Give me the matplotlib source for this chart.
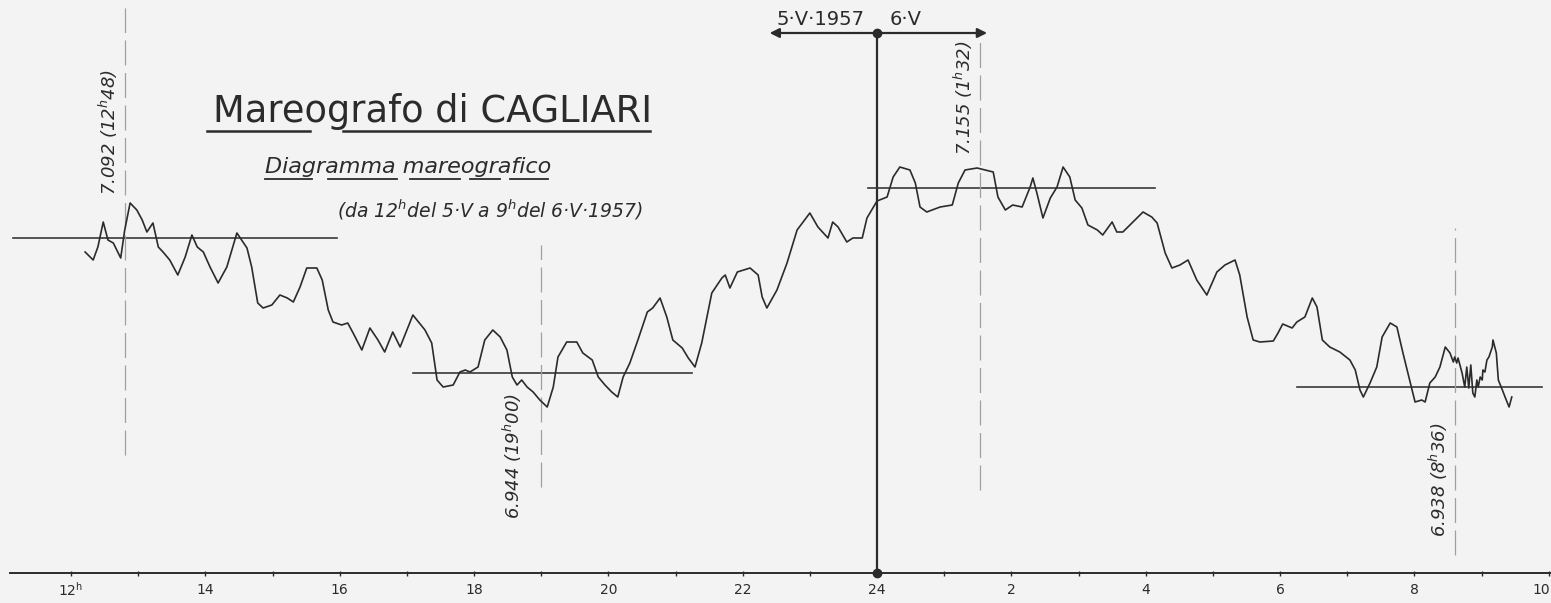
import matplotlib.pyplot as plt
import numpy as np

plt.rcParams['font.family'] = ['DejaVu Sans']

# time in hours counted from 12h of 5-V (values past 24 are on 6-V)
t = [12.21, 12.33, 12.40, 12.48, 12.55, 12.63, 12.74, 12.80, 12.88, 12.98,
     13.06, 13.13, 13.22, 13.30, 13.37, 13.47, 13.59, 13.70, 13.80, 13.88,
     13.97, 14.07, 14.19, 14.32, 14.47, 14.62, 14.69, 14.78, 14.86, 14.99,
     15.11, 15.22, 15.31, 15.41, 15.51, 15.66, 15.74, 15.83, 15.90, 16.03,
     16.12, 16.20, 16.33, 16.45, 16.57, 16.67, 16.79, 16.90, 17.09, 17.27,
     17.37, 17.45, 17.54, 17.69, 17.79, 17.87, 17.94, 18.06, 18.16, 18.28,
     18.39, 18.49, 18.57, 18.64, 18.71, 18.79, 18.88, 18.98, 19.09, 19.18,
     19.25, 19.38, 19.53, 19.62, 19.76, 19.85, 19.95, 20.05, 20.14, 20.22,
     20.32, 20.44, 20.58, 20.66, 20.77, 20.87, 20.96, 21.10, 21.19, 21.29,
     21.39, 21.54, 21.69, 21.74, 21.81, 21.92, 22.11, 22.23, 22.29, 22.36,
     22.51, 22.66, 22.81, 23.00, 23.12, 23.27, 23.34, 23.42, 23.55, 23.64,
     23.78, 23.85, 24.00, 24.15, 24.24, 24.34, 24.49, 24.57, 24.64, 24.74,
     24.94, 25.12, 25.21, 25.31, 25.49, 25.73, 25.80, 25.91, 26.02, 26.16,
     26.28, 26.32, 26.38, 26.47, 26.58, 26.68, 26.77, 26.87, 26.95, 27.05,
     27.14, 27.28, 27.36, 27.50, 27.57, 27.66, 27.84, 27.96, 28.09, 28.17,
     28.29, 28.39, 28.51, 28.63, 28.76, 28.91, 29.06, 29.18, 29.33, 29.40,
     29.51, 29.60, 29.70, 29.90, 29.97, 30.04, 30.18, 30.25, 30.37, 30.48,
     30.55, 30.63, 30.74, 30.89, 31.04, 31.12, 31.19, 31.24, 31.34, 31.44,
     31.52, 31.64, 31.74, 31.83, 31.94, 32.01, 32.11, 32.16, 32.23, 32.31,
     32.38, 32.46, 32.53,
     32.58, 32.60, 32.63, 32.65, 32.71, 32.75, 32.78, 32.81, 32.84, 32.87,
     32.90, 32.93, 32.95, 32.98, 33.01, 33.02, 33.05, 33.08, 33.11, 33.16,
     33.17, 33.22, 33.25, 33.31, 33.35, 33.41, 33.45]

# pen height above the time axis (chart units)
level = [321, 313, 326, 351, 333, 330, 315, 343, 370, 363,
         353, 341, 350, 326, 321, 313, 298, 316, 338, 326,
         321, 306, 290, 306, 340, 325, 306, 270, 265, 268,
         278, 275, 271, 286, 305, 305, 293, 263, 251, 248,
         250, 240, 223, 245, 233, 221, 241, 226, 258, 243,
         230, 193, 186, 188, 201, 203, 201, 206, 233, 243,
         236, 223, 196, 188, 193, 186, 181, 173, 166, 186,
         216, 231, 231, 220, 213, 196, 188, 181, 176, 196,
         210, 233, 261, 265, 275, 256, 233, 225, 215, 206,
         230, 280, 295, 298, 285, 301, 305, 298, 276, 265,
         283, 310, 343, 360, 346, 335, 351, 346, 331, 335,
         335, 355, 372, 376, 396, 406, 403, 390, 366, 361,
         366, 368, 390, 403, 405, 401, 376, 363, 368, 366,
         386, 395, 380, 355, 375, 386, 406, 396, 373, 365,
         348, 343, 338, 351, 341, 341, 353, 361, 356, 350,
         320, 305, 308, 313, 293, 278, 301, 308, 313, 298,
         256, 233, 231, 232, 240, 249, 245, 251, 256, 275,
         266, 233, 226, 221, 213, 203, 183, 176, 190, 206,
         236, 250, 246, 220, 190, 171, 173, 171, 190, 196,
         206, 226, 220,
         211, 216, 210, 215, 200, 186, 206, 185, 208, 180,
         176, 193, 186, 196, 193, 203, 201, 213, 216, 226,
         233, 220, 193, 183, 176, 166, 176]

# horizontal reference levels
ref_start = [11.14, 17.09, 23.87, 30.25]
ref_end = [15.96, 21.25, 28.14, 33.90]
ref_level = [335, 200, 385, 186]

# marked extremes
ext_time = [12.8, 19.0, 25.533, 32.6]
ext_text = ["7.092 (12$^h$48)", "6.944 (19$^h$00)", "7.155 (1$^h$32)", "6.938 (8$^h$36)"]

hours = list(range(12, 35))
label_hours = [12, 14, 16, 18, 20, 22, 24, 26, 28, 30, 32]
label_text = ["12$^\\mathrm{h}$", "14", "16", "18", "20", "22", "24", "2", "4", "6", "8"]

# layout of the dashed markers and their labels
dash_lo = [118, 86, 83, 18]
dash_hi = [565, 328, 538, 345]
lab_y = [441, 117, 475, 93]
lab_dx = [-0.24, -0.43, -0.25, -0.24]

ink = '#2b2b2b'
W, H = 1551, 603

fig = plt.figure(figsize=(W / 100, H / 100), dpi=100)
fig.patch.set_facecolor('#f3f3f3')
ax = fig.add_axes([0, 0, 1, 1])
ax.set_facecolor('#f3f3f3')
ax.set_xlim(10.943, 34.034)
ax.set_ylim(-30, 573)
ax.axis('off')

def fx(px):
    return px / W

def fy(py):
    return 1 - py / H

# time axis
ax.plot([11.09, 34.1], [0, 0], color=ink, lw=1.4)
ax.vlines(hours, -2.5, 2.5, color=ink, lw=1.0)
for h, s in zip(label_hours, label_text):
    ax.text(h, -17, s, ha='center', va='center', fontsize=10, color=ink)
# last label sits at the right edge of the sheet
ax.text(34.025, -17, "10", ha='right', va='center', fontsize=10, color=ink)

# day boundary
ax.plot([24, 24], [0, 540], color=ink, lw=1.6)
ax.plot([24, 24], [0, 540], 'o', color=ink, ms=6)
ax.annotate('', xy=(22.36, 540), xytext=(25.68, 540),
            arrowprops=dict(arrowstyle='<|-|>', color=ink, lw=1.6, mutation_scale=14))
ax.text(23.82, 544, "5·V·1957", ha='right', va='bottom', fontsize=14, color=ink)
ax.text(24.19, 544, "6·V", ha='left', va='bottom', fontsize=14, color=ink)

# reference levels
for a, b, lv in zip(ref_start, ref_end, ref_level):
    ax.plot([a, b], [lv, lv], color='#383838', lw=1.2)

# extremes
for x, lo, hi, ly, dx, s in zip(ext_time, dash_lo, dash_hi, lab_y, lab_dx, ext_text):
    ax.plot([x, x], [lo, hi], color='#a0a0a0', lw=0.9, dashes=(20, 6))
    ax.text(x + dx, ly, s, rotation=90, ha='center', va='center',
            fontsize=13, style='italic', color=ink)

# tide curve
ax.plot(t, level, color=ink, lw=1.2, solid_joinstyle='round')

# title block
ax.text(fx(213), fy(122), "Mareografo di CAGLIARI", transform=ax.transAxes,
        fontsize=26.5, color=ink, va='baseline', ha='left')
for a, b in [(207, 310), (343, 650)]:
    ax.plot([fx(a), fx(b)], [fy(131), fy(131)], transform=ax.transAxes, color=ink, lw=1.8)
ax.text(fx(265), fy(173), "Diagramma mareografico", transform=ax.transAxes,
        fontsize=16, style='italic', color=ink, va='baseline', ha='left')
for a, b in [(265, 312), (328, 397), (410, 460), (470, 500), (510, 548)]:
    ax.plot([fx(a), fx(b)], [fy(179), fy(179)], transform=ax.transAxes, color=ink, lw=1.3)
ax.text(fx(337), fy(218), "(da 12$^h$del 5·V a 9$^h$del 6·V·1957)", transform=ax.transAxes,
        fontsize=13.5, style='italic', color=ink, va='baseline', ha='left')

fig.savefig('out.png', dpi=100, facecolor=fig.get_facecolor())
